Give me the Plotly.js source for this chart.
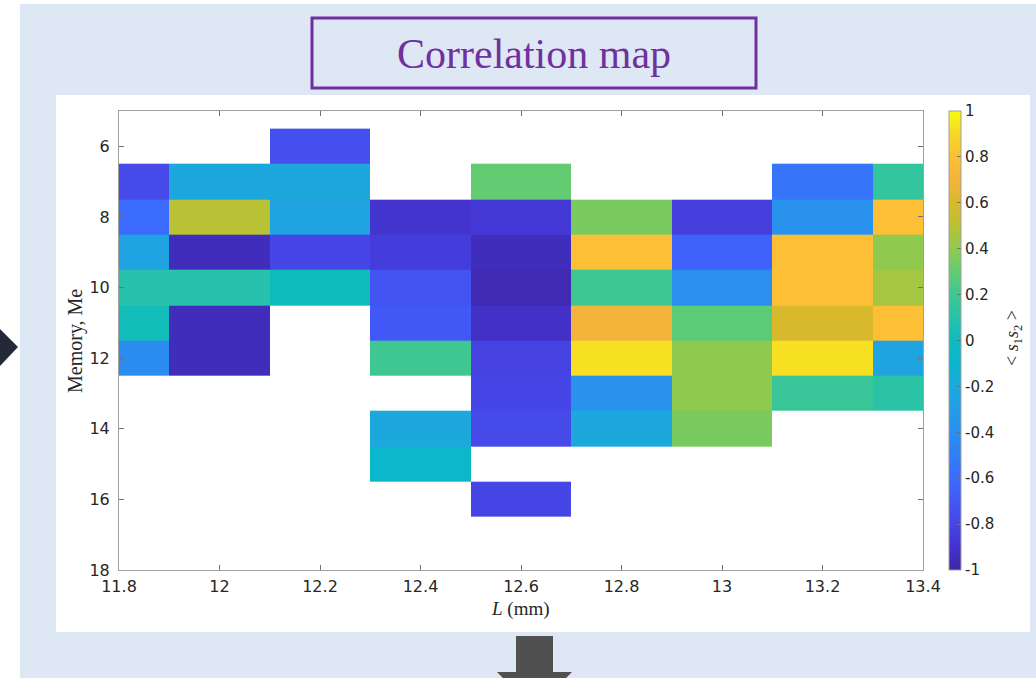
<!DOCTYPE html>
<html>
<head>
<meta charset="utf-8">
<script src="https://cdn.plot.ly/plotly-3.0.1.min.js"></script>
<style>
  html, body { margin: 0; padding: 0; background: #ffffff; }
  #chart { width: 1036px; height: 678px; }
</style>
</head>
<body>
<div id="chart"></div>
<script>
// Bin edges along L (mm) and memory rows (Me)
const lengthEdges = [11.8, 11.9, 12.1, 12.3, 12.5, 12.7, 12.9, 13.1, 13.3, 13.4];
const memoryRows = [6, 7, 8, 9, 10, 11, 12, 13, 14, 15, 16];

// Correlation <s1 s2> per memory row, one value per L bin
const me6  = [null, null, -0.75, null, null, null, null, null, null];
const me7  = [-0.78, -0.22, -0.22, null, 0.30, null, null, -0.55, 0.15];
const me8  = [-0.60, 0.50, -0.25, -0.90, -0.87, 0.35, -0.84, -0.38, 0.80];
const me9  = [-0.25, -0.95, -0.80, -0.85, -0.95, 0.80, -0.65, 0.80, 0.40];
const me10 = [0.10, 0.10, 0.00, -0.72, -0.97, 0.20, -0.40, 0.80, 0.45];
const me11 = [0.02, -0.95, null, -0.70, -0.92, 0.70, 0.28, 0.60, 0.80];
const me12 = [-0.42, -0.95, null, 0.20, -0.82, 0.92, 0.40, 0.92, -0.25];
const me13 = [null, null, null, null, -0.80, -0.38, 0.40, 0.17, 0.12];
const me14 = [null, null, null, -0.22, -0.78, -0.22, 0.35, null, null];
const me15 = [null, null, null, -0.08, null, null, null, null, null];
const me16 = [null, null, null, null, -0.80, null, null, null, null];

const xTickVals = [11.8, 12.0, 12.2, 12.4, 12.6, 12.8, 13.0, 13.2, 13.4];
const xTickText = ['11.8', '12', '12.2', '12.4', '12.6', '12.8', '13', '13.2', '13.4'];
const yTickVals = [6, 8, 10, 12, 14, 16, 18];
const cTickVals = [-1, -0.8, -0.6, -0.4, -0.2, 0, 0.2, 0.4, 0.6, 0.8, 1];
const cTickText = ['-1', '-0.8', '-0.6', '-0.4', '-0.2', '0', '0.2', '0.4', '0.6', '0.8', '1'];

const zData = [me6, me7, me8, me9, me10, me11, me12, me13, me14, me15, me16];

// parula-like colour map
const parula = [
  [0.00, '#3e26a8'], [0.05, '#4333cf'], [0.10, '#4646e6'], [0.15, '#4258f6'],
  [0.20, '#3c6cfd'], [0.25, '#307ff6'], [0.30, '#2a8fef'], [0.35, '#239ee6'],
  [0.40, '#1caadb'], [0.45, '#0cb4cf'], [0.50, '#0dbcbc'], [0.55, '#26c2ab'],
  [0.60, '#3fc791'], [0.65, '#63cc72'], [0.70, '#8fca4e'], [0.75, '#b8c234'],
  [0.80, '#d9b92c'], [0.85, '#f4b43c'], [0.90, '#fcbf36'], [0.95, '#f6d827'],
  [1.00, '#f9fb0e']
];

// pixel -> paper helpers (plot area: x 119..923, y 111..570)
const W = 1036, H = 678, L = 119, R = 923, T = 111, B = 570;
const px = p => (p - L) / (R - L);
const py = p => (B - p) / (B - T);

const trace = {
  type: 'heatmap',
  x: lengthEdges,
  y: memoryRows,
  z: zData,
  zmin: -1, zmax: 1,
  colorscale: parula,
  hoverongaps: false,
  colorbar: {
    x: px(949), xanchor: 'left', xpad: 0,
    y: 0.5, yanchor: 'middle', ypad: 0,
    len: 1, lenmode: 'fraction',
    thickness: 12, thicknessmode: 'pixels',
    outlinewidth: 1, outlinecolor: '#a0a0a0',
    ticks: 'inside', ticklen: 4, tickcolor: '#707070',
    tickvals: cTickVals, ticktext: cTickText,
    ticklabelstandoff: 2,
    tickfont: {family: 'DejaVu Sans', size: 15, color: '#262626'}
  }
};

const purple = '#7030a0';
const layout = {
  width: W, height: H,
  margin: {l: L, r: W - R, t: T, b: H - B, pad: 0},
  paper_bgcolor: '#ffffff',
  plot_bgcolor: 'rgba(0,0,0,0)',
  showlegend: false,
  xaxis: {
    range: [11.8, 13.4],
    tickvals: xTickVals, ticktext: xTickText,
    ticks: 'inside', ticklen: 5, tickcolor: '#707070',
    showline: true, linecolor: '#a0a0a0', linewidth: 1,
    mirror: 'ticks', showgrid: false, zeroline: false,
    ticklabelstandoff: 2,
    tickfont: {family: 'DejaVu Sans', size: 16, color: '#262626'}
  },
  yaxis: {
    range: [18, 5],
    tickvals: yTickVals,
    ticks: 'inside', ticklen: 5, tickcolor: '#707070',
    showline: true, linecolor: '#a0a0a0', linewidth: 1,
    mirror: 'ticks', showgrid: false, zeroline: false,
    ticklabelstandoff: 5,
    tickfont: {family: 'DejaVu Sans', size: 16, color: '#262626'}
  },
  shapes: [
    {type: 'rect', xref: 'paper', yref: 'paper', layer: 'below',
     x0: px(20), x1: px(1040), y0: py(690), y1: py(4),
     fillcolor: '#dde8f4', line: {width: 0}},
    {type: 'rect', xref: 'paper', yref: 'paper', layer: 'below',
     x0: px(56), x1: px(1030), y0: py(632), y1: py(95),
     fillcolor: '#ffffff', line: {width: 0}},
    {type: 'rect', xref: 'paper', yref: 'paper', layer: 'below',
     x0: px(312), x1: px(756), y0: py(88), y1: py(18),
     fillcolor: 'rgba(0,0,0,0)', line: {width: 3, color: purple}},
    {type: 'path', xref: 'paper', yref: 'paper', layer: 'below',
     path: 'M ' + px(-10) + ' ' + py(319) + ' L ' + px(0) + ' ' + py(329) + ' L ' + px(18) + ' ' + py(347) +
           ' L ' + px(0) + ' ' + py(366) + ' L ' + px(-10) + ' ' + py(376) + ' Z',
     fillcolor: '#222a3a', line: {width: 0}},
    {type: 'path', xref: 'paper', yref: 'paper', layer: 'below',
     path: 'M ' + px(516) + ' ' + py(636) + ' L ' + px(553) + ' ' + py(636) + ' L ' + px(553) + ' ' + py(672) +
           ' L ' + px(572) + ' ' + py(672) + ' L ' + px(534.5) + ' ' + py(710) + ' L ' + px(497) + ' ' + py(672) +
           ' L ' + px(516) + ' ' + py(672) + ' Z',
     fillcolor: '#505050', line: {width: 0}}
  ],
  annotations: [
    {xref: 'paper', yref: 'paper', x: px(534), y: py(54), xanchor: 'center', yanchor: 'middle',
     text: 'Correlation map', showarrow: false,
     font: {family: 'Liberation Serif', size: 42, color: purple}},
    {xref: 'paper', yref: 'paper', x: px(75), y: py(341), xanchor: 'center', yanchor: 'middle',
     text: 'Memory, Me', textangle: -90, showarrow: false,
     font: {family: 'Liberation Serif', size: 20, color: '#262626'}},
    {xref: 'paper', yref: 'paper', x: px(520), y: py(609), xanchor: 'center', yanchor: 'middle',
     text: '<i>L</i> (mm)', showarrow: false,
     font: {family: 'Liberation Serif', size: 19, color: '#262626'}},
    {xref: 'paper', yref: 'paper', x: px(1013), y: py(338), xanchor: 'center', yanchor: 'middle',
     text: '&lt; <i>s</i><sub>1</sub><i>s</i><sub>2</sub> &gt;', textangle: -90, showarrow: false,
     font: {family: 'Liberation Serif', size: 18, color: '#262626'}}
  ]
};

Plotly.newPlot('chart', [trace], layout, {displayModeBar: false, staticPlot: true});
</script>
</body>
</html>
